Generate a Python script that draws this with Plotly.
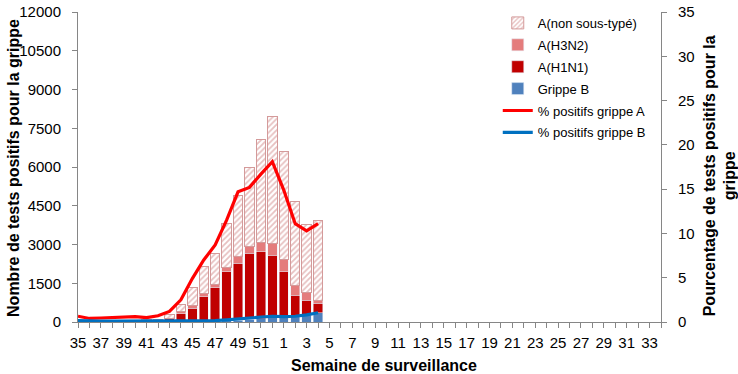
import plotly.graph_objects as go

weeks = ["35", "36", "37", "38", "39", "40", "41", "42", "43", "44", "45", "46",
         "47", "48", "49", "50", "51", "52", "1", "2", "3", "4", "5", "6", "7",
         "8", "9", "10", "11", "12", "13", "14", "15", "16", "17", "18", "19",
         "20", "21", "22", "23", "24", "25", "26", "27", "28", "29", "30", "31",
         "32", "33", "34"]
tick_labels = ["35", "", "37", "", "39", "", "41", "", "43", "", "45", "", "47", "",
               "49", "", "51", "", "1", "", "3", "", "5", "", "7", "", "9", "",
               "11", "", "13", "", "15", "", "17", "", "19", "", "21", "", "23", "",
               "25", "", "27", "", "29", "", "31", "", "33", ""]

grippe_b = [15, 10, 10, 15, 15, 20, 20, 20, 20, 25, 30, 30, 40, 50, 70, 100, 120,
            160, 190, 200, 250, 350]
a_h1n1 = [5, 5, 5, 5, 5, 5, 10, 30, 110, 285, 510, 940, 1280, 1890, 2210, 2570,
          2590, 2430, 1750, 830, 590, 370]
a_h3n2 = [5, 5, 5, 5, 5, 5, 10, 20, 20, 80, 80, 130, 140, 160, 250, 260, 360, 440,
          490, 390, 300, 110]
a_non_sous_type = [35, 20, 20, 25, 25, 30, 50, 40, 150, 290, 720, 1040, 1190, 1710,
                   2370, 3040, 3980, 4930, 4170, 3250, 2630, 3100]
pct_grippe_a = [0.65, 0.4, 0.45, 0.5, 0.5, 0.6, 0.5, 0.7, 1.2, 2.5, 4.9, 7.0, 8.7,
                11.5, 14.7, 15.2, 16.7, 18.1, 14.9, 11.1, 10.3, 11.1]
pct_grippe_b = [0.15, 0.1, 0.1, 0.1, 0.1, 0.1, 0.1, 0.1, 0.1, 0.1, 0.1, 0.1, 0.15,
                0.25, 0.35, 0.45, 0.55, 0.65, 0.6, 0.65, 0.8, 1.05]

x = weeks[:len(grippe_b)]
FONT = "Arial, 'Liberation Sans', sans-serif"

fig = go.Figure()
fig.add_trace(go.Bar(x=x, y=grippe_b, name="Grippe B", marker_color="#4f81bd",
                     legendrank=4, legendgroup="g4"))
fig.add_trace(go.Bar(x=x, y=a_h1n1, name="A(H1N1)", marker_color="#c00000",
                     legendrank=3, legendgroup="g3"))
fig.add_trace(go.Bar(x=x, y=a_h3n2, name="A(H3N2)", marker_color="#e47c7c",
                     legendrank=2, legendgroup="g2"))
fig.add_trace(go.Bar(x=x, y=a_non_sous_type, name="A(non sous-typé)",
                     marker=dict(color="white",
                                 pattern=dict(shape="/", fgcolor="#cf8282",
                                              bgcolor="white", size=4, solidity=0.45),
                                 line=dict(color="#d49a9a", width=1)),
                     legendrank=1, legendgroup="g1"))
fig.add_trace(go.Scatter(x=x, y=pct_grippe_a, name="% positifs grippe A",
                         mode="lines", line=dict(color="#ff0000", width=3.2),
                         yaxis="y2", legendrank=5, legendgroup="g5"))
fig.add_trace(go.Scatter(x=x, y=pct_grippe_b, name="% positifs grippe B",
                         mode="lines", line=dict(color="#0070c0", width=3.2),
                         yaxis="y2", legendrank=6, legendgroup="g6"))

axis_col = "#868686"
fig.update_layout(
    width=738, height=374,
    margin=dict(l=78, r=77, t=12, b=52, autoexpand=False),
    paper_bgcolor="white", plot_bgcolor="white",
    font=dict(family=FONT, size=15, color="black"),
    barmode="stack", bargap=0.18,
    showlegend=True,
    legend=dict(x=0.72, y=1.013, xanchor="left", yanchor="top",
                font=dict(size=13, family=FONT), bgcolor="rgba(0,0,0,0)",
                tracegroupgap=2, itemwidth=30),
    xaxis=dict(type="category", categoryorder="array", categoryarray=weeks,
               range=[0, 51], tickmode="array", tickvals=weeks, ticktext=tick_labels,
               showline=True, linecolor=axis_col, linewidth=1, automargin=False,
               ticks="outside", ticklen=5, tickcolor=axis_col, showgrid=False,
               tickangle=0, tickfont=dict(size=15), ticklabelstandoff=2),
    yaxis=dict(range=[0, 12000], dtick=1500, tick0=0, tickformat="d",
               showline=True, linecolor=axis_col, linewidth=1, automargin=False,
               ticks="outside", ticklen=5, tickcolor=axis_col,
               showgrid=False, zeroline=False, ticklabelstandoff=8),
    yaxis2=dict(range=[0, 35], dtick=5, tick0=0, overlaying="y", side="right",
                showline=True, linecolor=axis_col, linewidth=1, automargin=False,
                ticks="outside", ticklen=5, tickcolor=axis_col,
                showgrid=False, zeroline=False, ticklabelstandoff=8),
    annotations=[
        dict(text="<b>Nombre de tests positifs pour la grippe</b>", xref="paper",
             yref="paper", x=(14 - 78) / 583, y=0.497, textangle=-90,
             showarrow=False, xanchor="center", yanchor="middle",
             font=dict(size=16, family=FONT)),
        dict(text="<b>Pourcentage de tests positifs pour la<br>grippe</b>",
             xref="paper", yref="paper", x=(720 - 78) / 583, y=0.47, textangle=-90,
             showarrow=False, xanchor="center", yanchor="middle", align="center",
             font=dict(size=16, family=FONT)),
        dict(text="<b>Semaine de surveillance</b>", xref="paper", yref="paper",
             x=(384 - 78) / 583, y=(322 - 365) / 310, showarrow=False,
             xanchor="center", yanchor="middle", font=dict(size=16, family=FONT)),
    ],
)

fig.write_html("out.html", config={"displayModeBar": False},
               post_script="document.body.style.margin='0';document.body.style.padding='0';")
